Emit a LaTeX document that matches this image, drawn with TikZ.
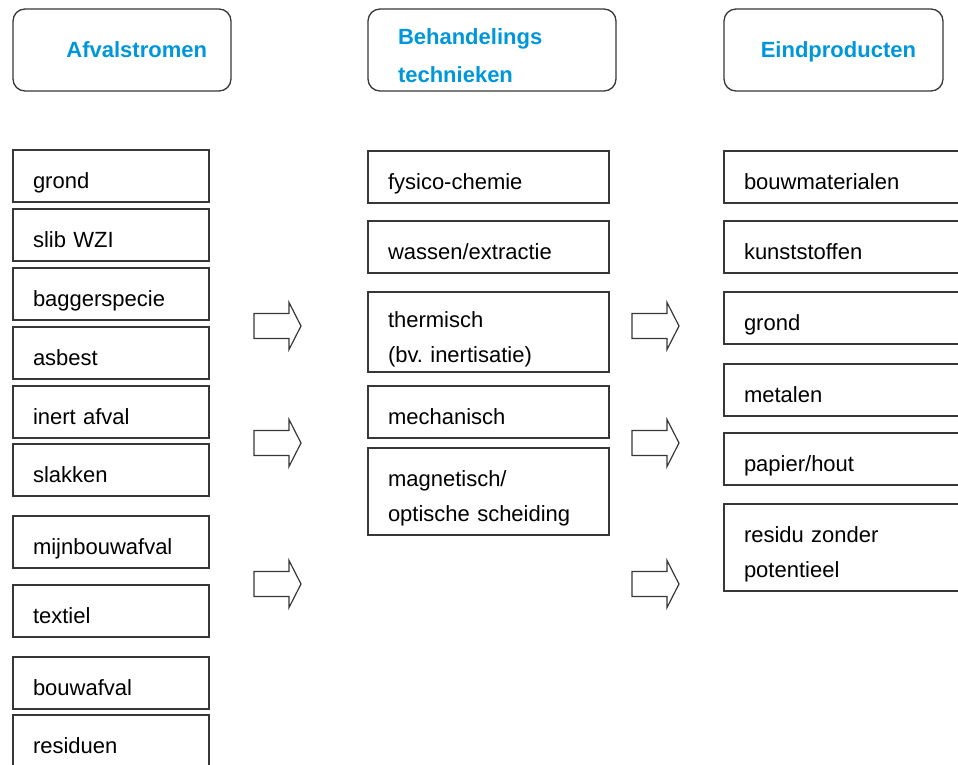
\documentclass[tikz,border=0pt]{standalone}
\usepackage{fontspec}
\setmainfont{Liberation Sans}
\usepackage{tikz}
\definecolor{flow_blue}{RGB}{0, 150, 220}
\definecolor{flow_line}{RGB}{55, 55, 55}
\frenchspacing

\begin{document}
\begin{tikzpicture}[x=1pt, y=-1pt, line width=1.3pt,
    every node/.style={font=\fontsize{22}{35}\selectfont, anchor=north west, outer sep=0pt},
    hdr/.style={draw=flow_line, rounded corners=12pt, minimum height=82pt,
      font=\fontsize{22}{38}\selectfont\bfseries, text=flow_blue,
      text height=18pt, text depth=4pt},
    item/.style={draw=flow_line, inner xsep=20pt, text width=#1, align=left,
      minimum height=52pt, text height=30pt, text depth=5pt},
    item2/.style={item=#1, minimum height=87pt, text height=20pt, text depth=30pt}]

    \useasboundingbox (0,0) rectangle (958,764);
    \clip (0,0) rectangle (958,764);

    % Column headers
    \node[hdr, text width=170pt, inner xsep=24pt, align=right] (hAfval) at (13,9) {Afvalstromen};
    \node[hdr, text width=188pt, inner xsep=30pt, align=left,
      text height=16pt, text depth=28pt] (hBehand) at (368,9) {Behandelings\\technieken};
    \node[hdr, text width=165pt, inner xsep=27pt, align=right] (hEind) at (724,9) {Eindproducten};

    % Afvalstromen
    \foreach \name/\txt/\y in {grond/grond/150, slib/slib WZI/209, bagger/baggerspecie/268,
        asbest/asbest/327, inert/inert afval/386, slakken/slakken/444,
        mijnbouw/mijnbouwafval/516, textiel/textiel/585, bouw/bouwafval/657,
        residuen/residuen/715} {
      \node[item=156pt] (a\name) at (13,\y) {\txt};
    }

    % Behandelingstechnieken
    \node[item=201pt] (bFysico) at (368,151) {fysico-chemie};
    \node[item=201pt] (bWassen) at (368,221) {wassen/extractie};
    \node[item2=201pt, minimum height=80pt] (bThermisch) at (368,292) {thermisch\\(bv. inertisatie)};
    \node[item=201pt] (bMechanisch) at (368,386) {mechanisch};
    \node[item2=201pt] (bMagnetisch) at (368,448) {magnetisch/\\optische scheiding};

    % Eindproducten
    \node[item=201pt] (eBouwmat) at (724,151) {bouwmaterialen};
    \node[item=201pt] (eKunst) at (724,221) {kunststoffen};
    \node[item=201pt] (eGrond) at (724,292) {grond};
    \node[item=201pt] (eMetalen) at (724,364) {metalen};
    \node[item=201pt] (ePapier) at (724,433) {papier/hout};
    \node[item2=201pt] (eResidu) at (724,504) {residu zonder\\potentieel};

    % Block arrows between the columns
    \foreach \x in {254, 632} {
      \foreach \c in {326, 443, 584} {
        \draw[draw=flow_line, line width=1.2pt, shift={(\x,\c)}]
          (0,-12.5) -- (35,-12.5) -- (35,-23.5) -- (47,0) -- (35,23.5)
          -- (35,12.5) -- (0,12.5) -- cycle;
      }
    }

\end{tikzpicture}
\end{document}
